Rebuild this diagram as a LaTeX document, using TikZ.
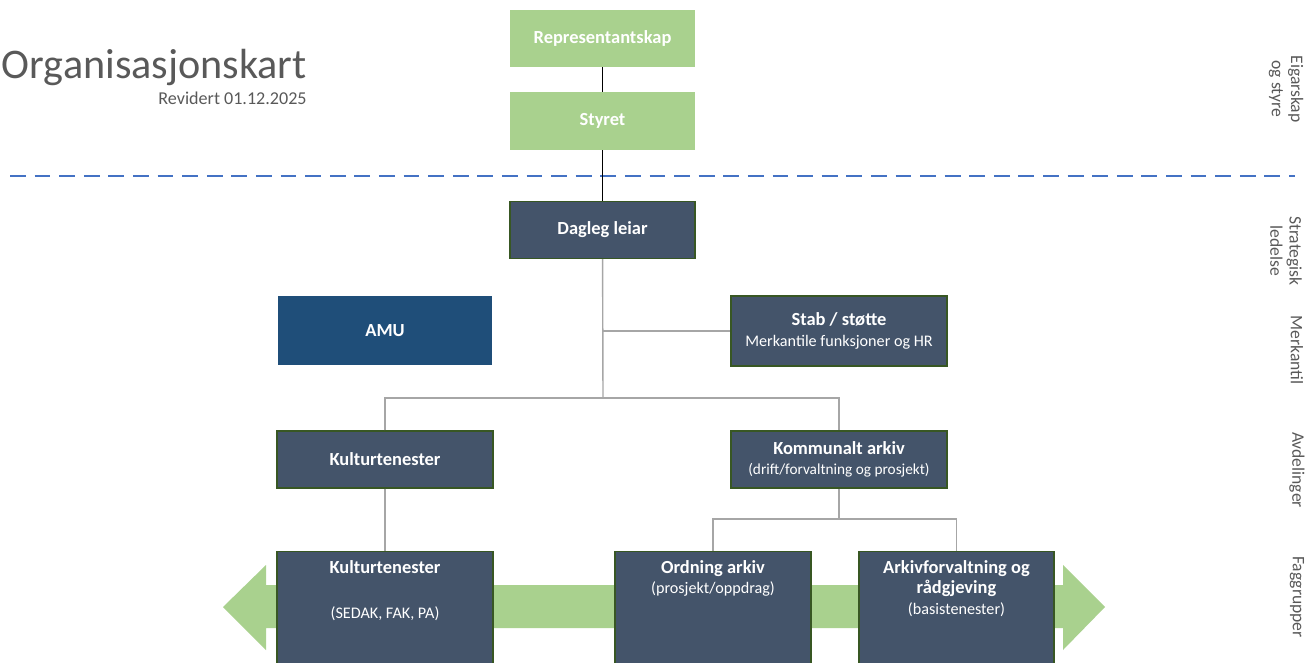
\documentclass[tikz,border=0pt]{standalone}
\usepackage{fontspec}
\setmainfont{Carlito}
\usetikzlibrary{positioning,backgrounds}
\definecolor{eiergreen}{RGB}{169,209,142}
\definecolor{slateblue}{RGB}{68,84,106}
\definecolor{amublue}{RGB}{31,78,121}
\definecolor{boxborder}{RGB}{56,87,35}
\definecolor{linegray}{RGB}{166,166,166}
\definecolor{textgray}{RGB}{89,89,89}
\definecolor{dashblue}{RGB}{68,114,196}
\newcommand{\boldsize}{\fontsize{10.5}{12.5}\selectfont\bfseries}
\newcommand{\plainsize}{\fontsize{9.2}{11.5}\selectfont}
\tikzset{
    % Owner boxes (green, no border)
    ownerbox/.style={
        rectangle, fill=eiergreen, draw=none,
        minimum width=3.7cm, minimum height=1.14cm,
        text=white, font=\boldsize
    },
    % Management / department boxes
    unitbox/.style={
        rectangle, fill=slateblue, draw=boxborder, semithick,
        minimum width=4.32cm, minimum height=1.14cm,
        text=white, align=center, font=\plainsize
    },
    % Professional group boxes (text at top)
    fagbox/.style={
        rectangle, fill=slateblue, draw=boxborder, semithick,
        minimum height=2.8cm, anchor=north
    },
    fagtext/.style={
        anchor=north, yshift=-2pt, text=white, align=center,
        font=\plainsize
    },
    % Level labels on the right
    levellabel/.style={
        rotate=-90, align=center, text=textgray,
        font=\fontsize{10}{11}\selectfont
    },
    % Connectors
    orgline/.style={draw=linegray, thick},
    ownerline/.style={draw=black, semithick}
}
\begin{document}
\begin{tikzpicture}[x=0.02cm, y=-0.02cm]
\clip (0,0) rectangle (1313,663);

% Title
\node[anchor=base east, inner sep=0, text=textgray, font=\fontsize{24}{26}\selectfont] (title) at (307,78) {Organisasjonskart};
\node[anchor=base east, inner sep=0, text=textgray, font=\fontsize{10.3}{12}\selectfont] (rev) at (307,104) {Revidert 01.12.2025};

% Owner level
\node[ownerbox] (rep) at (602.5,38.5) {Representantskap};
\node[ownerbox, minimum height=1.16cm] (styret) at (602.5,121) {Styret};

% Divider
\draw[dashblue, thick, dash pattern=on 9pt off 5pt] (10,176) -- (1295,176);

% Management
\node[unitbox, minimum width=3.7cm, font=\boldsize] (dl) at (602.5,230) {Dagleg leiar};
\node[rectangle, fill=amublue, minimum width=4.28cm, minimum height=1.38cm, text=white, font=\boldsize] (amu) at (385,330.5) {AMU};
\node[unitbox, minimum height=1.4cm] (stab) at (839,331) {{\boldsize Stab / støtte}\\Merkantile funksjoner og HR};

% Departments
\node[unitbox, font=\boldsize] (kult) at (385,459.5) {Kulturtenester};
\node[unitbox] (komm) at (839,459.5) {{\boldsize Kommunalt arkiv}\\{\fontsize{8.7}{10}\selectfont(drift/forvaltning og prosjekt)}};

% Professional groups on the arrow
\begin{scope}[on background layer]
\fill[eiergreen] (223,607) -- (266,565) -- (266,585) -- (1063,585) -- (1063,565)
  -- (1105,607) -- (1063,650) -- (1063,628) -- (266,628) -- (266,650) -- cycle;
\end{scope}
\node[fagbox, minimum width=4.32cm, label={[fagtext]north:{{\boldsize Kulturtenester}\\[14pt](SEDAK, FAK, PA)}}] (kultfag) at (385,551) {};
\node[fagbox, minimum width=3.92cm, label={[fagtext]north:{{\boldsize Ordning arkiv}\\(prosjekt/oppdrag)}}] (ordn) at (713,551) {};
\node[fagbox, minimum width=3.9cm, label={[fagtext]north:{{\boldsize Arkivforvaltning og}\\{\boldsize rådgjeving}\\(basistenester)}}] (arkf) at (956.5,551) {};

% Connectors
\coordinate (dlsplit) at (603,398);
\coordinate (fagsplit) at (839,519);
\draw[ownerline] (rep) -- (styret);
\draw[ownerline] (styret) -- (dl);
\draw[orgline] (dl) -- (dlsplit);
\draw[orgline] (dl.south |- stab.west) -- (stab.west);
\draw[orgline] (kult.north) |- (dlsplit) -| (komm.north);
\draw[orgline] (kult) -- (kultfag);
\draw[orgline] (komm) -- (fagsplit);
\draw[orgline] (ordn.north) |- (fagsplit) -| (arkf.north);

% Level labels
\node[levellabel] (lvl1) at (1286,89) {Eigarskap\\og styre};
\node[levellabel] (lvl2) at (1286,251) {Strategisk\\ledelse};
\node[levellabel] (lvl3) at (1297,350) {Merkantil};
\node[levellabel] (lvl4) at (1297,470) {Avdelinger};
\node[levellabel] (lvl5) at (1297,597) {Faggrupper};
\end{tikzpicture}
\end{document}
